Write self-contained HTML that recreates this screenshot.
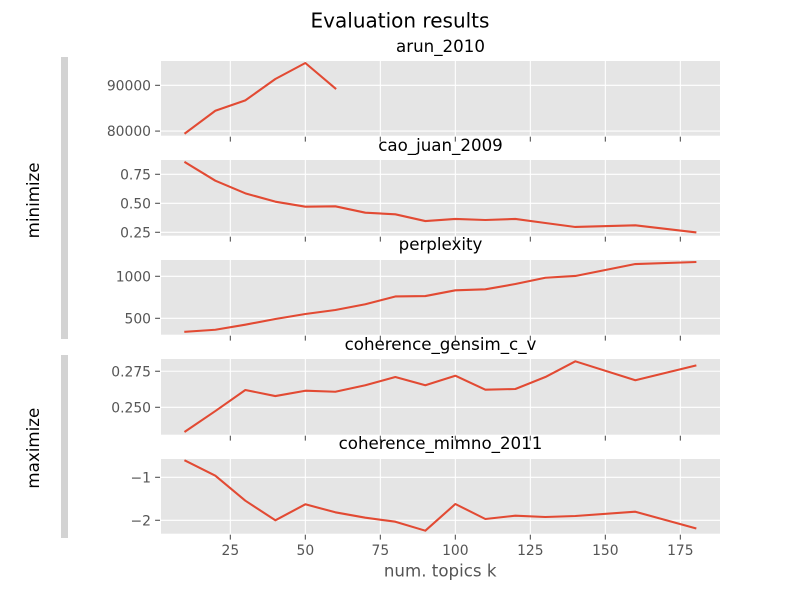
<!DOCTYPE html>
<html lang="en">
<head>
<meta charset="utf-8">
<title>Evaluation results</title>
<style>
html,body{margin:0;padding:0;background:#fff;width:800px;height:600px;overflow:hidden}
svg{display:block;font-family:"DejaVu Sans",sans-serif}
</style>
</head>
<body>
<svg id="chart" xmlns="http://www.w3.org/2000/svg" width="800" height="600" viewBox="0 0 800 600">
  <rect x="0" y="0" width="800" height="600" fill="#ffffff"/>
  <rect x="61" y="57" width="7" height="282" fill="#d3d3d3"/>
  <rect x="61" y="355" width="7" height="183" fill="#d3d3d3"/>
  <text x="400" y="27.5" font-size="20" text-anchor="middle" fill="#000">Evaluation results</text>
  <text transform="translate(39,200.4) rotate(-90)" font-size="16.67" text-anchor="middle" fill="#000">minimize</text>
  <text transform="translate(39,448.2) rotate(-90)" font-size="16.67" text-anchor="middle" fill="#000">maximize</text>
  <text x="440.2" y="576.7" font-size="16.67" text-anchor="middle" fill="#555555">num. topics k</text>
  <g id="panels"></g>
</svg>
<script>
const topicsK = [10, 20, 30, 40, 50, 60, 70, 80, 90, 100, 110, 120, 130, 140, 160, 180];
const xTickValues = [25, 50, 75, 100, 125, 150, 175];
const xDomain = [1.89, 188.22];

const arunValues = [79560, 84440, 86720, 91380, 94880, 89340];
const caoJuanValues = [0.853, 0.695, 0.586, 0.514, 0.471, 0.474, 0.419, 0.405, 0.347, 0.365, 0.356, 0.365, 0.33, 0.296, 0.31, 0.25];
const perplexityValues = [340, 364, 424, 492, 551, 599, 667, 760, 765, 833, 845, 908, 983, 1004, 1146, 1170];
const gensimValues = [0.2333, 0.2474, 0.262, 0.2578, 0.2615, 0.2608, 0.2653, 0.271, 0.2653, 0.2719, 0.2622, 0.2627, 0.271, 0.2819, 0.2688, 0.2789];
const mimnoValues = [-0.614, -0.963, -1.544, -2, -1.628, -1.814, -1.94, -2.033, -2.242, -1.621, -1.97, -1.893, -1.923, -1.9, -1.8, -2.186];

const arunTicks = [80000, 90000];
const caoJuanTicks = [0.25, 0.5, 0.75];
const perplexityTicks = [500, 1000];
const gensimTicks = [0.25, 0.275];
const mimnoTicks = [-2, -1];

const arunTickLabels = ['80000', '90000'];
const caoJuanTickLabels = ['0.25', '0.50', '0.75'];
const perplexityTickLabels = ['500', '1000'];
const gensimTickLabels = ['0.250', '0.275'];
const mimnoTickLabels = ['\u22122', '\u22121'];

const arunDomain = [78993, 95317];
const caoJuanDomain = [0.2207, 0.8733];
const perplexityDomain = [305, 1194];
const gensimDomain = [0.231, 0.2835];
const mimnoDomain = [-2.312, -0.574];

const NS = 'http://www.w3.org/2000/svg';
const AXIS_LEFT = 161;
const AXIS_RIGHT = 720;

function xScale(k) {
  return AXIS_LEFT + (k - xDomain[0]) / (xDomain[1] - xDomain[0]) * (AXIS_RIGHT - AXIS_LEFT);
}

function yScale(value, domain, top, bottom) {
  return bottom - (value - domain[0]) / (domain[1] - domain[0]) * (bottom - top);
}

function make(tag, attrs, parent) {
  const el = document.createElementNS(NS, tag);
  Object.keys(attrs).forEach(function (key) { el.setAttribute(key, attrs[key]); });
  parent.appendChild(el);
  return el;
}

function drawPanel(root, slug, title, titleBaseline, values, ticks, tickLabels, domain, top, bottom, showXLabels) {
  const group = make('g', {}, root);
  
  

  const bg = make('rect', { x: AXIS_LEFT, y: top, width: AXIS_RIGHT - AXIS_LEFT, height: bottom - top, fill: '#e5e5e5' }, group);
  
  

  xTickValues.forEach(function (tick) {
    const x = xScale(tick);
    const grid = make('line', { x1: x, x2: x, y1: top, y2: bottom, stroke: '#ffffff', 'stroke-width': 1.11 }, group);
    
    
    const mark = make('line', { x1: x, x2: x, y1: bottom + 1, y2: bottom + 5.9, stroke: '#555555', 'stroke-width': 1.11 }, group);
    
    
    if (showXLabels) {
      const label = make('text', { x: x, y: 555, 'font-size': 13.89, 'text-anchor': 'middle', fill: '#555555' }, group);
      
      
      label.textContent = String(tick);
    }
  });

  ticks.forEach(function (tick, i) {
    const y = yScale(tick, domain, top, bottom);
    const grid = make('line', { x1: AXIS_LEFT, x2: AXIS_RIGHT, y1: y, y2: y, stroke: '#ffffff', 'stroke-width': 1.11 }, group);
    
    
    const mark = make('line', { x1: AXIS_LEFT - 5.9, x2: AXIS_LEFT - 1, y1: y, y2: y, stroke: '#555555', 'stroke-width': 1.11 }, group);
    
    
    const label = make('text', { x: 151, y: y + 5, 'font-size': 13.89, 'text-anchor': 'end', fill: '#555555' }, group);
    
    
    label.textContent = tickLabels[i];
  });

  const points = values.map(function (value, i) {
    return xScale(topicsK[i]).toFixed(2) + ',' + yScale(value, domain, top, bottom).toFixed(2);
  }).join(' ');
  const line = make('polyline', { points: points, fill: 'none', stroke: '#E24A33', 'stroke-width': 2.08, 'stroke-linejoin': 'round', 'stroke-linecap': 'square' }, group);
  
  

  const heading = make('text', { x: 440.5, y: titleBaseline, 'font-size': 16.67, 'text-anchor': 'middle', fill: '#000000' }, group);
  
  
  heading.textContent = title;
}

const panelsRoot = document.getElementById('panels');
drawPanel(panelsRoot, 'arun-2010', 'arun_2010', 52, arunValues, arunTicks, arunTickLabels, arunDomain, 61, 135.7, false);
drawPanel(panelsRoot, 'cao-juan-2009', 'cao_juan_2009', 151, caoJuanValues, caoJuanTicks, caoJuanTickLabels, caoJuanDomain, 160, 235.7, false);
drawPanel(panelsRoot, 'perplexity', 'perplexity', 250, perplexityValues, perplexityTicks, perplexityTickLabels, perplexityDomain, 260, 334.7, false);
drawPanel(panelsRoot, 'coherence-gensim-c-v', 'coherence_gensim_c_v', 350, gensimValues, gensimTicks, gensimTickLabels, gensimDomain, 359, 434.7, false);
drawPanel(panelsRoot, 'coherence-mimno-2011', 'coherence_mimno_2011', 449, mimnoValues, mimnoTicks, mimnoTickLabels, mimnoDomain, 459, 533.7, true);
</script>
</body>
</html>
